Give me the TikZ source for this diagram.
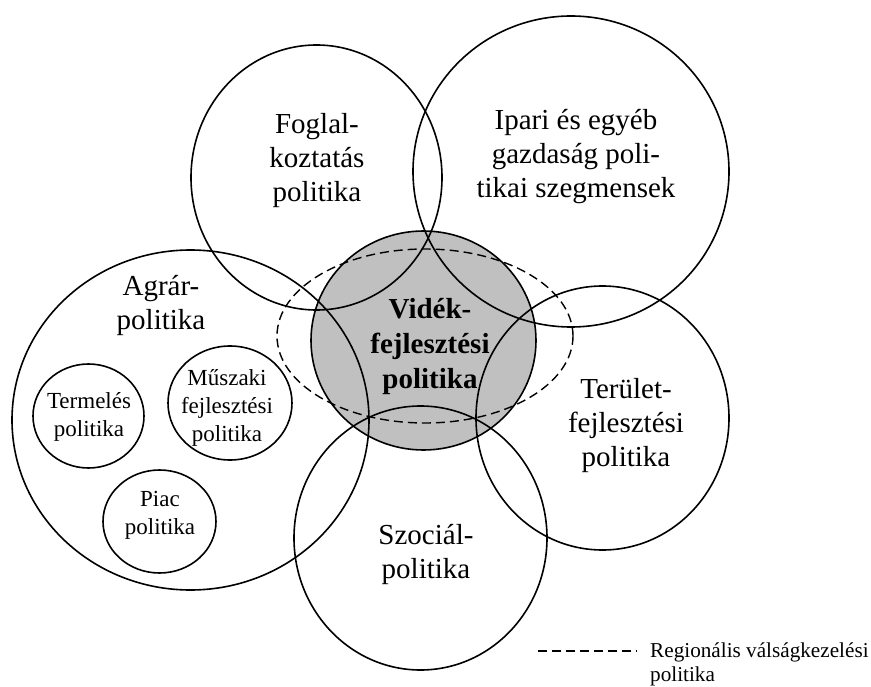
\documentclass[tikz,border=0pt]{standalone}
\usepackage{fontspec}
\setmainfont{Liberation Serif}
\definecolor{vgray}{RGB}{192,192,192}
\begin{document}
\begin{tikzpicture}[x=1pt,y=-1pt,
  ring/.style={line width=1.6pt},
  dashring/.style={line width=1.4pt, dash pattern=on 9pt off 5pt},
  bigtext/.style={font=\fontsize{29}{34}\selectfont, align=center, inner sep=0pt},
  boldtext/.style={font=\fontsize{29}{35}\selectfont\bfseries, align=center, inner sep=0pt},
  smalltext/.style={font=\fontsize{23}{28}\selectfont, align=center, inner sep=0pt},
  legtext/.style={font=\fontsize{21.2}{24}\selectfont, align=left, inner sep=0pt}]
\useasboundingbox[fill=white] (0,0) rectangle (871,687);
% central grey circle
\fill[vgray] (423.5,340.5) ellipse [x radius=112.5pt, y radius=109.5pt];
\draw[ring] (423.5,340.5) ellipse [x radius=112.5pt, y radius=109.5pt];
% big circles
\draw[ring] (316.5,177.5) ellipse [x radius=125.5pt, y radius=132.5pt];
\draw[ring] (571,171.5) ellipse [x radius=158pt, y radius=155.5pt];
\draw[ring] (190.5,420) ellipse [x radius=178.5pt, y radius=170pt];
\draw[ring] (602.5,418) ellipse [x radius=126.5pt, y radius=132pt];
\draw[ring] (420.5,538) ellipse [x radius=126.5pt, y radius=132pt];
% small circles
\draw[ring] (88.5,416) ellipse [x radius=55.5pt, y radius=52pt];
\draw[ring] (230,403) ellipse [x radius=62pt, y radius=57pt];
\draw[ring] (159.5,521.5) ellipse [x radius=56.5pt, y radius=51.5pt];
% dashed ellipse
\draw[dashring] (425,336) ellipse [x radius=148pt, y radius=87pt];
% texts
\node[bigtext] (foglal) at (317,161) {Foglal-\\koztatás\\politika};
\node[bigtext] (ipari) at (576,157) {Ipari és egyéb\\gazdaság poli-\\tikai szegmensek};
\node[bigtext] (agrar) at (161,305.5) {Agrár-\\politika};
\node[boldtext] (videk) at (430,347) {Vidék-\\fejlesztési\\politika};
\node[bigtext] (terulet) at (626,426) {Terület-\\fejlesztési\\politika};
\node[bigtext] (szocial) at (426,554.5) {Szociál-\\politika};
\node[smalltext] (termeles) at (89,416.5) {Termelés\\politika};
\node[smalltext] (muszaki) at (227,408) {Műszaki\\fejlesztési\\politika};
\node[smalltext] (piac) at (160,515) {Piac\\politika};
% legend
\coordinate (legA) at (538,651);
\coordinate (legB) at (637,651);
\draw[dashring] (legA) -- (legB);
\node[legtext, anchor=west] (legend) at (650,664) {Regionális válságkezelési\\politika};
\end{tikzpicture}
\end{document}
